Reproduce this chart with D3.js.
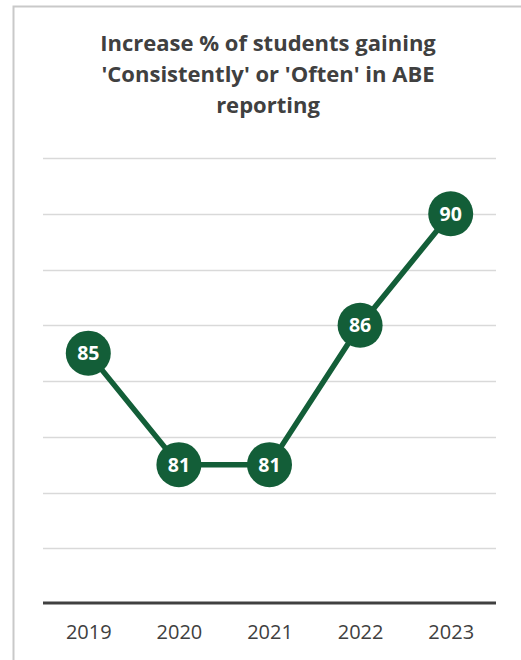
<!DOCTYPE html>
<html>
<head>
<meta charset="utf-8">
<script src="https://cdn.jsdelivr.net/npm/d3@7"></script>
<style>
  html, body { margin: 0; padding: 0; background: #fff; }
  svg { display: block; }
</style>
</head>
<body>
<script>
// Chart data
const years = ["2019", "2020", "2021", "2022", "2023"];
const values = [85, 81, 81, 86, 90];
const gridTicks = [78, 80, 82, 84, 86, 88, 90, 92];
const titleLines = [
  "Increase % of students gaining",
  "'Consistently' or 'Often' in ABE",
  "reporting"
];

const W = 521, H = 660;
const green = "#135E38";
const textGrey = "#404040";
const fontFamily = "'Open Sans', 'Noto Sans', sans-serif";

const svg = d3.select("body").append("svg")
  .attr("width", W).attr("height", H);

// chart frame (continues past the right and bottom edges)
svg.append("rect")
  .attr("x", 13.5).attr("y", 6.5)
  .attr("width", W + 20).attr("height", H + 20)
  .attr("fill", "#fff")
  .attr("stroke", "#c9c9c9").attr("stroke-width", 2);

// title, sized so the first line spans the header width
const title = svg.append("g").selectAll("text")
  .data(titleLines).join("text")
  .attr("x", 268)
  .attr("y", (d, i) => 51 + i * 31)
  .attr("text-anchor", "middle")
  .attr("font-family", fontFamily)
  .attr("font-weight", "bold")
  .attr("font-size", 20)
  .attr("fill", textGrey)
  .text(d => d);
const firstLen = title.node().getComputedTextLength();
if (firstLen > 0) title.attr("font-size", 20 * 336 / firstLen);

const plot = { left: 43, right: 496, top: 158, bottom: 604 };

const x = d3.scalePoint()
  .domain(years)
  .range([plot.left, plot.right])
  .padding(0.5);

const y = d3.scaleLinear()
  .domain([76, 92])
  .range([plot.bottom, plot.top]);

// horizontal gridlines
svg.append("g").selectAll("line")
  .data(gridTicks).join("line")
  .attr("x1", plot.left).attr("x2", plot.right)
  .attr("y1", d => Math.round(y(d)) + 0.5)
  .attr("y2", d => Math.round(y(d)) + 0.5)
  .attr("stroke", "#d9d9d9").attr("stroke-width", 1.3);

// category axis
const xAxis = svg.append("g")
  .attr("transform", `translate(0,${plot.bottom - 1})`)
  .call(d3.axisBottom(x).tickSize(0).tickPadding(22));
xAxis.select(".domain")
  .attr("d", `M${plot.left},0H${plot.right}`)
  .attr("stroke", textGrey).attr("stroke-width", 3);
xAxis.selectAll("text")
  .attr("font-family", fontFamily)
  .attr("font-size", 20)
  .attr("fill", textGrey);

// series line
const line = d3.line()
  .x((d, i) => x(years[i]))
  .y(d => y(d));

svg.append("path")
  .datum(values)
  .attr("d", line)
  .attr("fill", "none")
  .attr("stroke", green)
  .attr("stroke-width", 5.5)
  .attr("stroke-linejoin", "round");

// markers with value labels
const pts = svg.append("g").selectAll("g")
  .data(values).join("g")
  .attr("transform", (d, i) => `translate(${x(years[i])},${y(d)})`);

pts.append("circle")
  .attr("r", 22.5)
  .attr("fill", green);

pts.append("text")
  .attr("text-anchor", "middle")
  .attr("dy", "0.36em")
  .attr("font-family", fontFamily)
  .attr("font-weight", "bold")
  .attr("font-size", 19.5)
  .attr("fill", "#fff")
  .text(d => d);
</script>
</body>
</html>
